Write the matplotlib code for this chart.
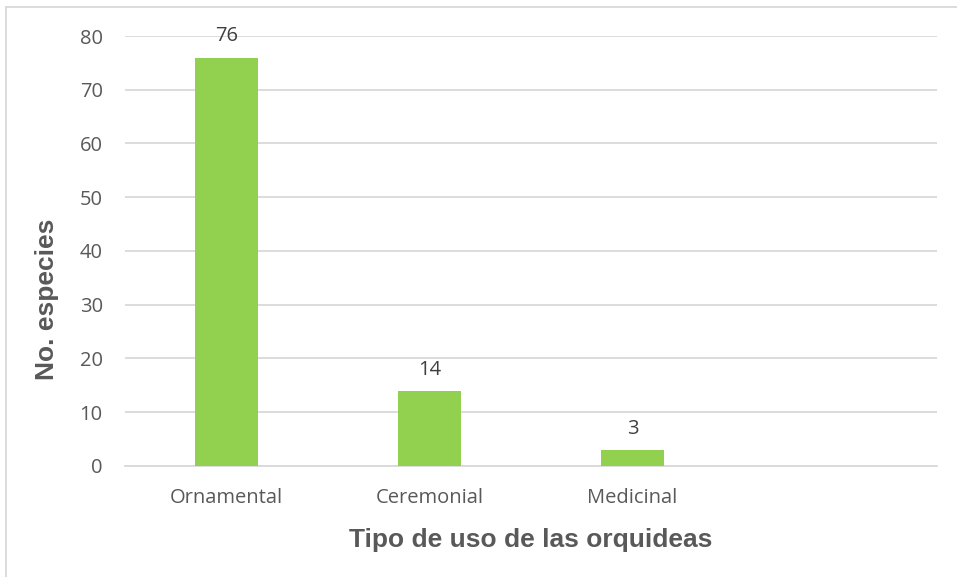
import matplotlib.pyplot as plt
from matplotlib.lines import Line2D

categories = ["Ornamental", "Ceremonial", "Medicinal", ""]
species = [76, 14, 3, None]
yticks = [0, 10, 20, 30, 40, 50, 60, 70, 80]

text_color = "#595959"
bar_color = "#92D050"
grid_color = "#D9D9D9"

fig = plt.figure(figsize=(9.57, 5.77), dpi=100)
ax = fig.add_axes([0.1306, 0.1924, 0.8485, 0.7452])

xs = range(len(categories))
heights = [v if v is not None else 0 for v in species]
bars = ax.bar(xs, heights, width=0.315, color=bar_color, zorder=3)

for b, v in zip(bars, species):
    if v is None:
        continue
    ax.annotate(str(v), (b.get_x() + b.get_width() / 2, v),
                xytext=(0, 8), textcoords="offset points",
                ha="center", va="bottom", fontsize=14.5,
                family="Open Sans", color="#404040")

ax.set_xlim(-0.5, len(categories) - 0.5)
ax.set_ylim(0, 80)
ax.set_yticks(yticks)
ax.set_xticks(list(xs))
ax.set_xticklabels(categories)
ax.yaxis.grid(True, color=grid_color, linewidth=1.3, zorder=0)
ax.set_axisbelow(True)

for side in ["top", "right", "left"]:
    ax.spines[side].set_visible(False)
ax.spines["bottom"].set_color(grid_color)
ax.spines["bottom"].set_linewidth(1.3)

ax.tick_params(axis="both", length=0, labelcolor=text_color, labelsize=14.5)
ax.tick_params(axis="x", pad=16)
ax.tick_params(axis="y", pad=16)
for lbl in ax.get_xticklabels() + ax.get_yticklabels():
    lbl.set_family("Open Sans")

ax.set_xlabel("Tipo de uso de las orquideas", fontsize=19, fontweight="bold",
              family="Liberation Sans", color=text_color, labelpad=14)
ax.set_ylabel("No. especies", fontsize=19, fontweight="bold",
              family="Liberation Sans", color=text_color, va="center")
ax.yaxis.set_label_coords(-0.096, 0.388)

# chart frame (left and top edges only)
fig.add_artist(Line2D([0.0063, 0.0063], [0, 0.988], color=grid_color, lw=1.3))
fig.add_artist(Line2D([0.0063, 1.0], [0.988, 0.988], color=grid_color, lw=1.3))

fig.savefig("out.png", dpi=100)
